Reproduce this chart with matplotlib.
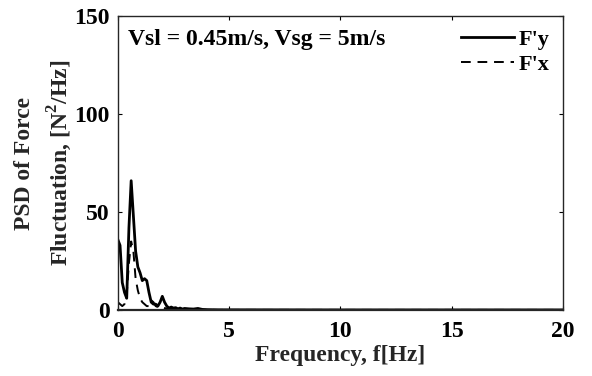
import matplotlib
matplotlib.use("Agg")
import matplotlib.pyplot as plt
import numpy as np

rcParams = plt.matplotlib.rcParams
rcParams['font.family'] = 'Liberation Serif'
rcParams['font.weight'] = 'bold'
rcParams['mathtext.fontset'] = 'custom'
rcParams['mathtext.rm'] = 'Liberation Serif:bold'
rcParams['mathtext.bf'] = 'Liberation Serif:bold'

# frequency grid (Hz) and PSD values
freq = [0.0, 0.1, 0.2, 0.3, 0.4, 0.5, 0.6, 0.7, 0.8, 0.9, 1.0, 1.1, 1.2, 1.3,
        1.4, 1.5, 1.6, 1.7, 1.8, 1.9, 2.0, 2.1, 2.2, 2.3, 2.4, 2.5, 2.6, 2.7,
        2.8, 2.9, 3.0, 3.2, 3.4, 3.6, 3.8, 4.0, 4.5, 5.0, 10.0, 15.0, 20.0]
psd_fy = [36, 33, 14, 9, 6, 42, 66, 48, 30, 22, 19, 15, 16, 15,
          9, 4, 3, 3, 2, 4, 7, 4, 2, 1, 1.5, 1, 1.2, 0.6,
          1.0, 0.5, 0.8, 0.6, 0.5, 0.8, 0.3, 0.2, 0.1, 0.1, 0.05, 0.05, 0.05]
psd_fx = [4, 3, 2, 3, 8, 24, 35, 30, 16, 10, 6, 4, 3, 2,
          2, 5, 4, 2, 1.5, 1, 1.5, 1, 0.8, 0.5, 0.8, 0.4, 0.5, 0.3,
          0.4, 0.3, 0.3, 0.2, 0.2, 0.3, 0.1, 0.1, 0.05, 0.05, 0.05, 0.05, 0.05]

fig = plt.figure(figsize=(5.92, 3.76), dpi=100)
ax = fig.add_axes([0.199, 0.1755, 0.752, 0.7815])

ax.plot(freq, psd_fy, 'k-', lw=2.0, label="F'y")
ax.plot(freq, psd_fx, 'k--', lw=1.4, dashes=(5, 3.5), label="F'x")

ax.set_xlim(0, 20)
ax.set_ylim(0, 150)
ax.set_xticks([0, 5, 10, 15, 20])
ax.set_yticks([0, 50, 100, 150])
ax.tick_params(direction='in', length=3, labelsize=17, width=0.8, pad=6,
               top=True, right=True)
ax.tick_params(axis='x', pad=8)
for s in ax.spines.values():
    s.set_linewidth(1.0)
    s.set_color('#262626')
ax.spines['bottom'].set_linewidth(1.6)

ax.set_xlabel('Frequency, f[Hz]', fontsize=17, fontweight='bold', labelpad=2,
              color='#262626')
ax.set_ylabel('PSD of Force\nFluctuation, [N$^2$/Hz]', fontsize=17,
              fontweight='bold', labelpad=0, linespacing=1.5, color='#262626')

ax.text(0.022, 0.955, 'Vsl = 0.45m/s, Vsg = 5m/s', transform=ax.transAxes,
        fontsize=17, fontweight='bold', va='top', ha='left')

leg = ax.legend(loc='upper right', frameon=False, fontsize=16,
                handlelength=2.4, handletextpad=0.2, borderaxespad=0.2,
                labelspacing=0.2)

fig.savefig('out.png', dpi=100)
